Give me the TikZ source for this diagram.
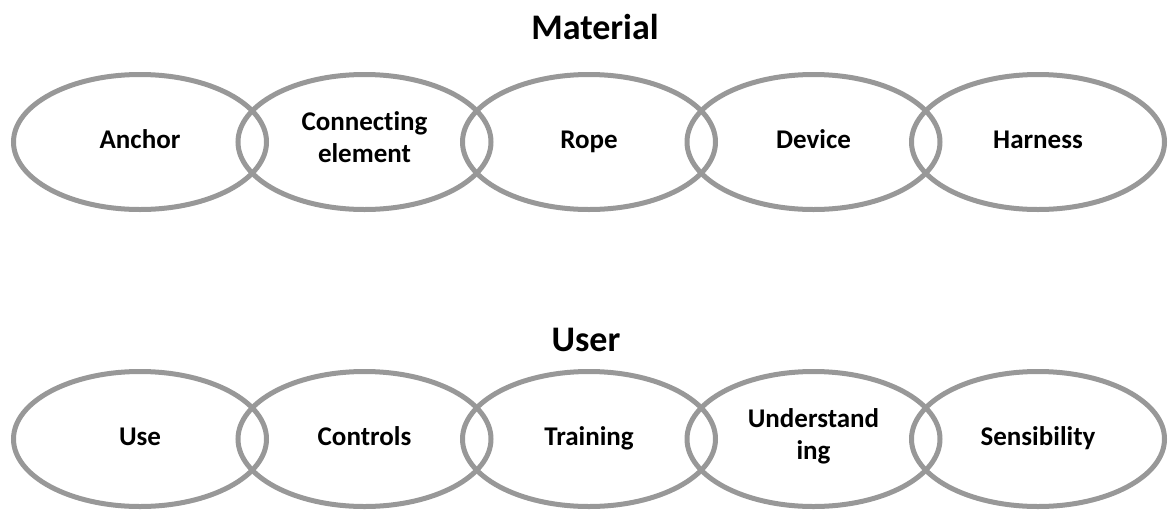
\documentclass[tikz,border=0pt]{standalone}
\usepackage{fontspec}
\setmainfont{Carlito}[Ligatures=NoCommon]
\usetikzlibrary{shapes.geometric}
\definecolor{ringgray}{RGB}{152,152,152}

\begin{document}
\begin{tikzpicture}[x=1pt, y=-1pt,
        ring/.style={draw=ringgray, line width=5pt, ellipse, minimum width=253pt, minimum height=135pt, inner sep=0pt, align=center,
            font=\fontsize{27}{32}\selectfont\bfseries, execute at begin node=\strut, execute at end node=\strut},
        heading/.style={inner sep=0pt, font=\fontsize{36}{43}\selectfont\bfseries}]
    \useasboundingbox (0,0) rectangle (1171,512);
    % top chain
    \node[heading] (material) at (595,27) {Material};
    \foreach \lab [count=\i] in {Anchor,{Connecting\\element},Rope,Device,Harness}
        \node[ring] (m\i) at ({140+224.5*(\i-1)},142) {\lab};
    % bottom chain
    \node[heading] (user) at (586,340) {User};
    \foreach \lab [count=\i] in {Use,Controls,Training,{Understand\\ing},Sensibility}
        \node[ring] (u\i) at ({140+224.5*(\i-1)},439) {\lab};
\end{tikzpicture}
\end{document}
